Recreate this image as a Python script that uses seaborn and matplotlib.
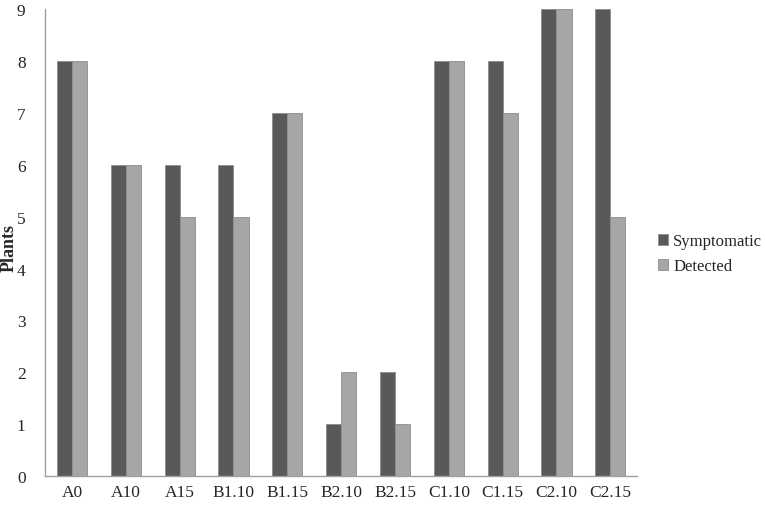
import matplotlib
matplotlib.use("Agg")
import matplotlib.pyplot as plt
import seaborn as sns
import pandas as pd

categories = ["A0", "A10", "A15", "B1.10", "B1.15", "B2.10", "B2.15", "C1.10", "C1.15", "C2.10", "C2.15"]
symptomatic = [8, 6, 6, 6, 7, 1, 2, 8, 8, 9, 9]
detected = [8, 6, 5, 5, 7, 2, 1, 8, 7, 9, 5]
series_names = ["Symptomatic", "Detected"]
y_ticks = list(range(0, 10))

df = pd.DataFrame({
    "cat": categories * 2,
    "value": symptomatic + detected,
    "series": [series_names[0]] * len(categories) + [series_names[1]] * len(categories),
})

sns.set_style("white")
plt.rcParams["font.family"] = ["Liberation Serif", "DejaVu Serif"]

fig = plt.figure(figsize=(7.65, 5.06), dpi=100)
ax = fig.add_axes([0.0588, 0.0573, 0.7742, 0.9227])
sns.barplot(data=df, x="cat", y="value", hue="series", order=categories,
            hue_order=series_names, palette=["#595959", "#a6a6a6"],
            width=0.56, gap=0, ax=ax, edgecolor="#8c8c8c", linewidth=0.6,
            saturation=1)
ax.set_ylim(0, 9)
ax.set_xlim(-0.5, len(categories) - 0.5)
ax.set_yticks(y_ticks)
ax.set_yticklabels([str(t) for t in y_ticks], fontsize=12.5)
ax.set_xticklabels(categories, fontsize=12.5)
ax.tick_params(axis="x", length=0, pad=6)
ax.tick_params(axis="y", length=0, pad=14)
ax.set_xlabel("")
ax.set_ylabel("Plants", fontsize=13, fontweight="bold")
ax.yaxis.set_label_coords(-0.046, 0.49)
for s in ["top", "right"]:
    ax.spines[s].set_visible(False)
for s in ["left", "bottom"]:
    ax.spines[s].set_color("#a0a0a0")
    ax.spines[s].set_linewidth(1.0)

handles, labels = ax.get_legend_handles_labels()
ax.legend(handles, labels, loc="center left", bbox_to_anchor=(1.01, 0.476),
          frameon=False, fontsize=12, handlelength=0.6, handleheight=0.6,
          handletextpad=0.3, labelspacing=0.55)
fig.savefig("out.png", dpi=100)
